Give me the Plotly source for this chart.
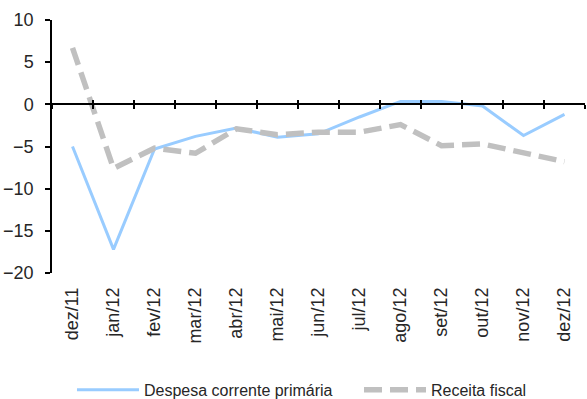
import plotly.graph_objects as go

# Monthly series (% change)
months = ["dez/11", "jan/12", "fev/12", "mar/12", "abr/12", "mai/12", "jun/12",
          "jul/12", "ago/12", "set/12", "out/12", "nov/12", "dez/12"]
despesa = [-5.0, -17.2, -5.3, -3.8, -2.8, -3.9, -3.5, -1.5, 0.35, 0.35, -0.2, -3.7, -1.2]
receita = [6.7, -7.6, -5.2, -5.8, -2.9, -3.6, -3.3, -3.3, -2.4, -4.9, -4.7, -5.8, -6.8]

y_range = [-20, 10]
y_ticks = [-20, -15, -10, -5, 0, 5, 10]

fig = go.Figure()
fig.add_trace(go.Scatter(
    x=months, y=despesa, mode="lines", name="Despesa corrente primária",
    line=dict(color="#99CCFF", width=3), legend="legend",
))
fig.add_trace(go.Scatter(
    x=months, y=receita, mode="lines", name="Receita fiscal",
    line=dict(color="#C0C0C0", width=5.5, dash="18px,8px"), legend="legend2",
))

# boundaries between categories, used for the ticks on the zero line
n = len(months)
bounds = [i - 0.5 for i in range(n + 1)]
zero_pos = (0 - y_range[0]) / (y_range[1] - y_range[0])

# placeholder traces so the zero-line axes get drawn
for ax in ("x2", "x3"):
    fig.add_trace(go.Scatter(x=[bounds[0], bounds[-1]], y=[None, None],
                             xaxis=ax, yaxis="y", mode="lines",
                             showlegend=False, hoverinfo="skip"))

font = "Liberation Sans, Arial, sans-serif"
text_color = "#262626"
legend_style = dict(
    orientation="h", xanchor="left", y=-0.462, yanchor="middle",
    font=dict(size=16, family=font, color=text_color),
    itemwidth=62, bgcolor="rgba(0,0,0,0)",
)
fig.update_layout(
    width=587, height=399,
    margin=dict(l=52, r=2, t=20, b=126, autoexpand=False),
    paper_bgcolor="white", plot_bgcolor="white",
    font=dict(family=font, color=text_color),
    showlegend=True,
    legend=dict(x=0.0375, **legend_style),
    legend2=dict(x=0.576, **legend_style),
    xaxis=dict(
        type="category", range=[-0.5, n - 0.5], automargin=False,
        showline=False, showgrid=False, zeroline=False,
        ticks="", tickangle=-90, ticklabelstandoff=10,
        tickfont=dict(size=18, family=font, color=text_color),
    ),
    xaxis2=dict(
        type="linear", range=[-0.5, n - 0.5], overlaying="x",
        anchor="free", position=zero_pos, automargin=False,
        showline=True, linecolor="black", linewidth=1.5,
        showgrid=False, zeroline=False,
        tickmode="array", tickvals=bounds, showticklabels=False,
        ticks="outside", ticklen=4, tickwidth=1.5, tickcolor="black",
    ),
    xaxis3=dict(
        type="linear", range=[-0.5, n - 0.5], overlaying="x",
        anchor="free", position=zero_pos, automargin=False,
        showline=False, showgrid=False, zeroline=False,
        tickmode="array", tickvals=bounds, showticklabels=False,
        ticks="inside", ticklen=4, tickwidth=1.5, tickcolor="black",
    ),
    yaxis=dict(
        range=y_range, tickmode="array", tickvals=y_ticks, automargin=False,
        showline=True, linecolor="black", linewidth=1.5,
        showgrid=False, zeroline=False,
        ticks="outside", ticklen=5, tickwidth=1.5, tickcolor="black",
        ticklabelstandoff=8,
        tickfont=dict(size=18, family=font, color=text_color),
    ),
)

fig.write_html("out.html")
